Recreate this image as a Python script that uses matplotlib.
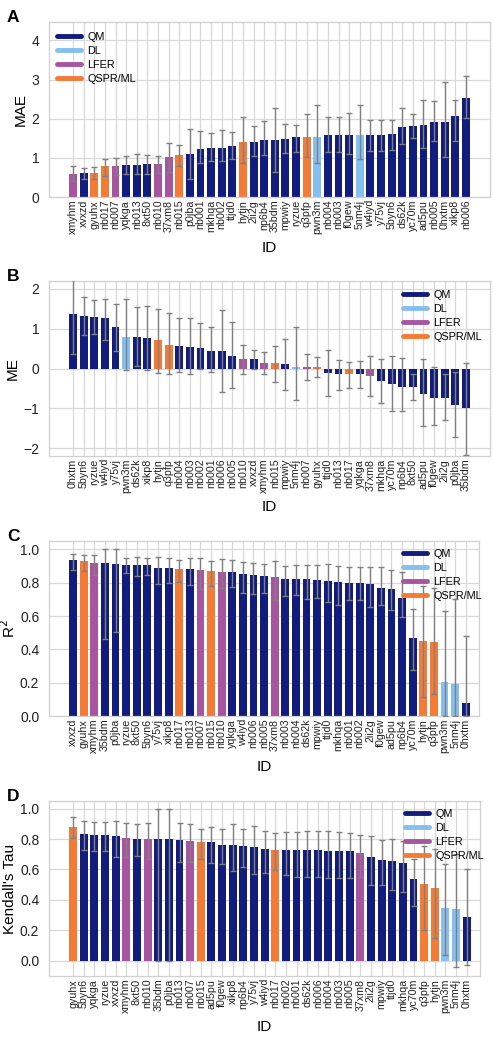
import numpy as np
import matplotlib
matplotlib.use("Agg")
import matplotlib.pyplot as plt
from matplotlib.lines import Line2D

plt.rcParams['font.family'] = ['Liberation Sans', 'DejaVu Sans']

# method type of every submission
dl_ids = ["pwn3m", "5nm4j"]
lfer_ids = ["xmyhm", "nb007", "nb010", "37xm8"]
qspr_ids = ["gyuhx", "nb017", "nb015", "hytjn", "q3pfp"]

methods = ["QM", "DL", "LFER", "QSPR/ML"]
method_colors = {"QM": "#111c7c", "DL": "#85bff0", "LFER": "#a8559f", "QSPR/ML": "#f47b36"}

# A - MAE
ids_a = ["xmyhm", "xvxzd", "gyuhx", "nb017", "nb007", "yqkga", "nb013", "8xt50", "nb010", "37xm8",
         "nb015", "p0jba", "nb001", "mkhqa", "nb002", "ttjd0", "hytjn", "2ii2g", "np6b4", "35bdm",
         "mpwiy", "ryzue", "q3pfp", "pwn3m", "nb004", "nb003", "f0gew", "5nm4j", "w4iyd", "y75vj",
         "5byn6", "ds62k", "yc70m", "ad5pu", "nb005", "0hxtm", "xikp8", "nb006"]
mae = [0.59, 0.61, 0.61, 0.78, 0.80, 0.83, 0.83, 0.84, 0.84, 1.02, 1.07, 1.10, 1.23, 1.25, 1.26, 1.31,
       1.40, 1.40, 1.45, 1.45, 1.49, 1.52, 1.52, 1.54, 1.58, 1.58, 1.58, 1.58, 1.59, 1.59, 1.60, 1.79,
       1.81, 1.84, 1.92, 1.92, 2.06, 2.53]
mae_lo = [0.42, 0.47, 0.47, 0.54, 0.56, 0.59, 0.58, 0.59, 0.61, 0.64, 0.80, 0.45, 0.86, 0.92, 0.92, 0.98,
          0.88, 1.05, 1.07, 0.63, 1.12, 1.14, 1.01, 0.86, 1.14, 1.15, 1.09, 0.97, 1.17, 1.18, 1.19, 1.36,
          1.50, 1.26, 1.42, 1.03, 1.43, 2.02]
mae_hi = [0.80, 0.73, 0.76, 0.98, 1.00, 1.04, 1.10, 1.08, 1.06, 1.38, 1.33, 1.73, 1.68, 1.63, 1.72, 1.67,
          2.04, 1.82, 1.95, 2.27, 1.86, 1.84, 2.12, 2.35, 2.05, 2.05, 2.15, 2.35, 1.97, 1.97, 1.97, 2.28,
          2.13, 2.49, 2.44, 2.95, 2.49, 3.09]

# B - ME
ids_b = ["0hxtm", "5byn6", "ryzue", "w4iyd", "y75vj", "pwn3m", "ds62k", "xikp8", "hytjn", "q3pfp",
         "nb004", "nb003", "nb002", "nb001", "nb006", "nb005", "nb010", "xvxzd", "xmyhm", "nb015",
         "mpwiy", "5nm4j", "nb007", "gyuhx", "ttjd0", "nb013", "nb017", "yqkga", "37xm8", "mkhqa",
         "yc70m", "np6b4", "8xt50", "ad5pu", "f0gew", "2ii2g", "p0jba", "35bdm"]
me = [1.38, 1.32, 1.30, 1.26, 1.04, 0.79, 0.78, 0.77, 0.71, 0.59, 0.56, 0.53, 0.52, 0.45, 0.43, 0.32,
      0.25, 0.24, 0.14, 0.13, 0.11, 0.05, 0.04, 0.03, -0.12, -0.14, -0.15, -0.15, -0.18, -0.31, -0.40,
      -0.47, -0.47, -0.65, -0.73, -0.74, -0.92, -1.00]
me_lo = [0.37, 0.83, 0.88, 0.72, 0.45, -0.05, 0.07, -0.05, -0.12, -0.13, -0.08, -0.13, -0.02, -0.10,
         -0.60, -0.50, -0.13, 0.00, -0.14, -0.33, -0.54, -0.78, -0.28, -0.22, -0.70, -0.54, -0.49,
         -0.50, -0.68, -0.87, -1.07, -1.06, -0.80, -1.45, -1.41, -1.30, -1.71, -2.17]
me_hi = [2.40, 1.80, 1.72, 1.76, 1.61, 1.76, 1.55, 1.57, 1.49, 1.40, 1.27, 1.26, 1.14, 1.05, 1.46, 1.18,
         0.58, 0.46, 0.41, 0.57, 0.74, 1.05, 0.37, 0.29, 0.46, 0.22, 0.17, 0.20, 0.32, 0.23, 0.32, 0.27,
         -0.13, 0.25, 0.03, -0.15, -0.10, 0.14]

# C - R2
ids_c = ["xvxzd", "gyuhx", "xmyhm", "35bdm", "p0jba", "ryzue", "8xt50", "5byn6", "y75vj", "xikp8",
         "nb017", "nb013", "nb007", "nb015", "nb010", "yqkga", "w4iyd", "nb006", "nb005", "37xm8",
         "nb003", "nb004", "ds62k", "mpwiy", "ttjd0", "mkhqa", "nb001", "nb002", "2ii2g", "f0gew",
         "ad5pu", "np6b4", "yc70m", "hytjn", "q3pfp", "pwn3m", "5nm4j", "0hxtm"]
r2 = [0.936, 0.928, 0.918, 0.918, 0.910, 0.908, 0.904, 0.904, 0.890, 0.888, 0.882, 0.882, 0.876,
      0.872, 0.866, 0.866, 0.852, 0.844, 0.840, 0.832, 0.824, 0.822, 0.820, 0.818, 0.812, 0.804,
      0.798, 0.796, 0.792, 0.768, 0.762, 0.708, 0.470, 0.448, 0.444, 0.206, 0.194, 0.076]
r2_lo = [0.876, 0.872, 0.844, 0.462, 0.506, 0.860, 0.840, 0.844, 0.790, 0.800, 0.806, 0.784, 0.762,
         0.780, 0.770, 0.776, 0.740, 0.734, 0.740, 0.696, 0.722, 0.724, 0.704, 0.708, 0.682, 0.668,
         0.696, 0.694, 0.656, 0.666, 0.636, 0.596, 0.278, 0.116, 0.132, 0.0, 0.0, 0.0]
r2_hi = [0.970, 0.964, 0.968, 1.0, 1.0, 0.946, 0.952, 0.946, 0.952, 0.946, 0.938, 0.946, 0.946, 0.932,
         0.940, 0.934, 0.922, 0.916, 0.912, 0.928, 0.902, 0.904, 0.908, 0.904, 0.910, 0.902, 0.896,
         0.896, 0.892, 0.892, 0.874, 0.866, 0.644, 0.780, 0.770, 0.630, 0.700, 0.480]

# D - Kendall's Tau
ids_d = ["gyuhx", "5byn6", "yqkga", "ryzue", "xvxzd", "xmyhm", "8xt50", "nb010", "35bdm", "p0jba",
         "nb013", "nb007", "nb015", "ad5pu", "f0gew", "xikp8", "np6b4", "y75vj", "w4iyd", "nb017",
         "nb002", "nb001", "ds62k", "nb006", "nb004", "nb003", "nb005", "37xm8", "2ii2g", "mpwiy",
         "ttjd0", "mkhqa", "yc70m", "q3pfp", "hytjn", "pwn3m", "5nm4j", "0hxtm"]
tau = [0.882, 0.835, 0.829, 0.825, 0.820, 0.809, 0.803, 0.803, 0.803, 0.803, 0.796, 0.789, 0.778,
       0.778, 0.763, 0.761, 0.754, 0.750, 0.732, 0.730, 0.726, 0.726, 0.726, 0.726, 0.719, 0.719,
       0.719, 0.706, 0.682, 0.660, 0.654, 0.640, 0.535, 0.504, 0.476, 0.346, 0.340, 0.287]
tau_lo = [0.807, 0.728, 0.719, 0.719, 0.684, 0.684, 0.689, 0.671, 0.0, 0.0, 0.649, 0.649, 0.667,
          0.645, 0.636, 0.590, 0.616, 0.568, 0.579, 0.596, 0.561, 0.550, 0.550, 0.553, 0.542, 0.546,
          0.546, 0.553, 0.498, 0.498, 0.465, 0.454, 0.357, 0.204, 0.153, 0.040, -0.042, -0.030]
tau_hi = [0.945, 0.921, 0.912, 0.912, 0.921, 0.904, 0.897, 0.904, 1.0, 1.0, 0.904, 0.897, 0.868,
          0.882, 0.868, 0.897, 0.864, 0.886, 0.853, 0.842, 0.846, 0.846, 0.851, 0.851, 0.851, 0.844,
          0.842, 0.829, 0.820, 0.794, 0.800, 0.789, 0.667, 0.754, 0.737, 0.638, 0.700, 0.605]


def method_of(name):
    if name in dl_ids:
        return "DL"
    if name in lfer_ids:
        return "LFER"
    if name in qspr_ids:
        return "QSPR/ML"
    return "QM"


def draw_panel(ax, ids, vals, lo, hi, ylabel, letter, ylim, yticks, xmax, leg_anchor, ylab_x):
    x = np.arange(len(ids))
    vals = np.array(vals)
    cols = [method_colors[method_of(i)] for i in ids]
    ax.bar(x, vals, width=0.74, color=cols, zorder=2)
    yerr = [vals - np.array(lo), np.array(hi) - vals]
    ax.errorbar(x, vals, yerr=yerr, fmt='none', ecolor='#808080', elinewidth=1.0,
                capsize=2, capthick=1.0, zorder=3)
    ax.set_xlim(-2.27, xmax)
    ax.set_ylim(*ylim)
    ax.set_yticks(yticks)
    ax.set_xticks(x)
    ax.set_xticklabels(ids, rotation=90, fontsize=7.7, color='#222222')
    ax.tick_params(axis='x', length=0, pad=2)
    ax.tick_params(axis='y', length=0, pad=7, labelsize=10, labelcolor='#222222')
    ax.grid(True, color='#d8d8d8', lw=0.9, zorder=0)
    ax.set_axisbelow(True)
    for s in ax.spines.values():
        s.set_color('#d0d0d0')
        s.set_linewidth(0.9)
    ax.set_ylabel(ylabel, fontsize=11)
    ax.yaxis.set_label_coords(ylab_x, 0.5)
    ax.set_xlabel("ID", fontsize=11)
    ax.xaxis.set_label_coords(0.5, -0.25)
    handles = [Line2D([0], [0], color=method_colors[m], lw=3.5, solid_capstyle='round') for m in methods]
    ax.legend(handles, methods, loc='upper left', bbox_to_anchor=leg_anchor, frameon=False,
              fontsize=7.8, handlelength=2.2, handletextpad=0.6, labelspacing=0.38,
              borderpad=0, borderaxespad=0)
    ax.figure.text(7 / 494, ax.get_position().y1 + 12 / 1038, letter, fontsize=12.5,
                   fontweight='bold', ha='left', va='top')


fig = plt.figure(figsize=(4.94, 10.38), dpi=100)
H = 1038.0
W = 494.0
ax_a = fig.add_axes([49 / W, 1 - 197 / H, 441 / W, 175 / H])
ax_b = fig.add_axes([49 / W, 1 - 456 / H, 441 / W, 175 / H])
ax_c = fig.add_axes([49 / W, 1 - 716 / H, 430 / W, 175 / H])
ax_d = fig.add_axes([49 / W, 1 - 976 / H, 431 / W, 175 / H])

draw_panel(ax_a, ids_a, mae, mae_lo, mae_hi, "MAE", "A", (0, 4.47), [0, 1, 2, 3, 4], 39.27,
           (0.018, 0.945), -0.048)
draw_panel(ax_b, ids_b, me, me_lo, me_hi, "ME", "B", (-2.2, 2.2), [-2, -1, 0, 1, 2], 39.27,
           (0.803, 0.95), -0.066)
draw_panel(ax_c, ids_c, r2, r2_lo, r2_hi, "R$^2$", "C", (0, 1.05), [0, 0.2, 0.4, 0.6, 0.8, 1.0], 38.25,
           (0.823, 0.955), -0.072)
draw_panel(ax_d, ids_d, tau, tau_lo, tau_hi, "Kendall's Tau", "D", (-0.1, 1.05),
           [0, 0.2, 0.4, 0.6, 0.8, 1.0], 38.25, (0.826, 0.955), -0.074)

fig.savefig("out.png", dpi=100, facecolor='white')
